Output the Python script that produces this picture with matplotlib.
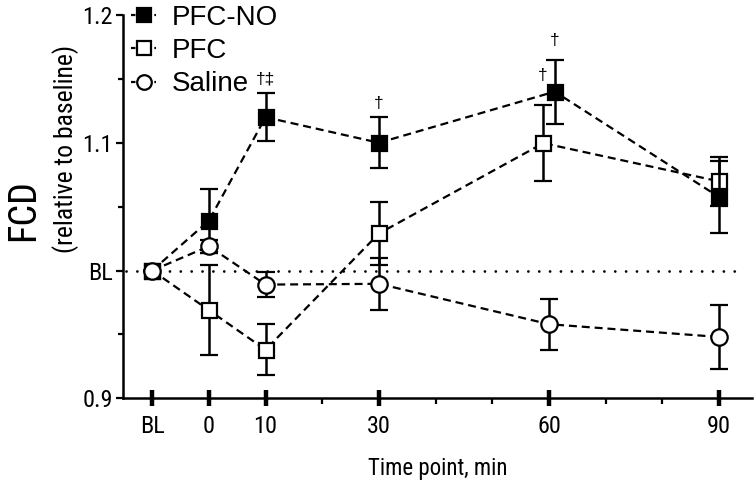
import matplotlib
matplotlib.use('Agg')
import matplotlib.pyplot as plt
from matplotlib.lines import Line2D
from matplotlib.ticker import FixedLocator

# ---------------- data ----------------
time_labels = ['BL', '0', '10', '30', '60', '90']
time_min = [-10, 0, 10, 30, 60, 90]
minor_min = [20, 40, 50, 70, 80]

pfcno_x = [-10, 0, 10, 30, 61, 90]
pfcno_y = [1.000, 1.039, 1.120, 1.100, 1.140, 1.0575]
pfcno_err = [0.0, 0.025, 0.019, 0.020, 0.025, 0.0285]

pfc_x = [-10, 0, 10, 30, 59, 90]
pfc_y = [1.000, 0.969, 0.938, 1.029, 1.0997, 1.0698]
pfc_err = [0.0, 0.035, 0.020, 0.025, 0.030, 0.019]

saline_x = [-10, 0, 10, 30, 60, 90]
saline_y = [1.000, 1.019, 0.989, 0.9896, 0.958, 0.948]
saline_err = [0.0, 0.005, 0.010, 0.0205, 0.020, 0.025]

ytick_vals = [0.9, 1.0, 1.1, 1.2]
ytick_labels = ['0.9', 'BL', '1.1', '1.2']
yminor_vals = [0.95, 1.05, 1.15]

# significance marks: (x, y, text)
sig_x = [10, 30, 61, 58.8]
sig_y = [1.150, 1.131, 1.180, 1.153]
sig_txt = ['\u2020\u2021', '\u2020', '\u2020', '\u2020']

# ---------------- style ----------------
NARROW = ['Roboto Condensed', 'Liberation Sans', 'DejaVu Sans']
REG = ['Liberation Sans', 'DejaVu Sans']
plt.rcParams['font.family'] = NARROW

W, H = 756, 490
fig = plt.figure(figsize=(W / 100, H / 100), dpi=100)
left, right, top, bottom = 122.7, 752, 15, 398.3
ax = fig.add_axes([left / W, 1 - bottom / H, (right - left) / W, (bottom - top) / H])

ax.set_xlim(-15.2, 95.8)
ax.set_ylim(0.9, 1.2)

# baseline dotted line
ax.plot([-14.6, 94.6], [1.0, 1.0], color='black', lw=2.0,
        linestyle=(0, (0.01, 3.9)), dash_capstyle='round', zorder=1)

common = dict(color='black', lw=1.6, dashes=(3.6, 2.2), elinewidth=1.8,
              capsize=6.5, capthick=1.8, markeredgewidth=1.6, markeredgecolor='black')

ax.errorbar(pfc_x, pfc_y, yerr=pfc_err, marker='s', markersize=10.8,
            markerfacecolor='white', zorder=3, label='PFC', **common)
ax.errorbar(pfcno_x, pfcno_y, yerr=pfcno_err, marker='s', markersize=10.8,
            markerfacecolor='black', zorder=4, label='PFC-NO', **common)
ax.errorbar(saline_x, saline_y, yerr=saline_err, marker='o', markersize=11.8,
            markerfacecolor='white', zorder=5, label='Saline', **common)

for sx, sy, st in zip(sig_x, sig_y, sig_txt):
    ax.text(sx, sy, st, ha='center', va='center', fontsize=12.5, family=REG)

# spines
for s in ['top', 'right']:
    ax.spines[s].set_visible(False)
for s in ['left', 'bottom']:
    ax.spines[s].set_linewidth(1.8)

ax.xaxis.set_major_locator(FixedLocator(time_min))
ax.set_xticklabels(time_labels)
ax.xaxis.set_minor_locator(FixedLocator(minor_min))
ax.tick_params(axis='x', which='major', direction='inout', length=12, width=3.2,
               labelsize=17.5, pad=6)
ax.tick_params(axis='x', which='minor', direction='out', length=4.5, width=1.6)

ax.yaxis.set_major_locator(FixedLocator(ytick_vals))
ax.set_yticklabels(ytick_labels)
ax.yaxis.set_minor_locator(FixedLocator(yminor_vals))
ax.tick_params(axis='y', which='major', direction='out', length=5, width=1.6,
               labelsize=17.5, pad=2)
ax.tick_params(axis='y', which='minor', direction='out', length=3.5, width=1.6)

ax.set_xlabel('Time point, min', fontsize=16.5, labelpad=14)

# y labels
fig.text(24 / W, 1 - 210 / H, 'FCD', rotation=90, ha='center', va='center', fontsize=27.5)
fig.text(66 / W, 1 - 149 / H, '(relative to baseline)', rotation=90, ha='center',
         va='center', fontsize=18.5)

# legend
handles = [
    Line2D([], [], color='black', lw=1.6, dashes=(2, 1.5), marker='s', markersize=10.5,
           markerfacecolor='black', markeredgecolor='black', markeredgewidth=1.6),
    Line2D([], [], color='black', lw=1.6, dashes=(2, 1.5), marker='s', markersize=10.5,
           markerfacecolor='white', markeredgecolor='black', markeredgewidth=1.6),
    Line2D([], [], color='black', lw=1.6, dashes=(2, 1.5), marker='o', markersize=10.5,
           markerfacecolor='white', markeredgecolor='black', markeredgewidth=1.6),
]
ax.legend(handles, ['PFC-NO', 'PFC', 'Saline'], loc='upper left',
          bbox_to_anchor=(131 / W, 1 - 5 / H), bbox_transform=fig.transFigure,
          frameon=False, prop={'family': REG, 'size': 20}, handlelength=0.9,
          handletextpad=0.55, labelspacing=0.26, borderpad=0, borderaxespad=0)

fig.savefig('out.png', dpi=100)
